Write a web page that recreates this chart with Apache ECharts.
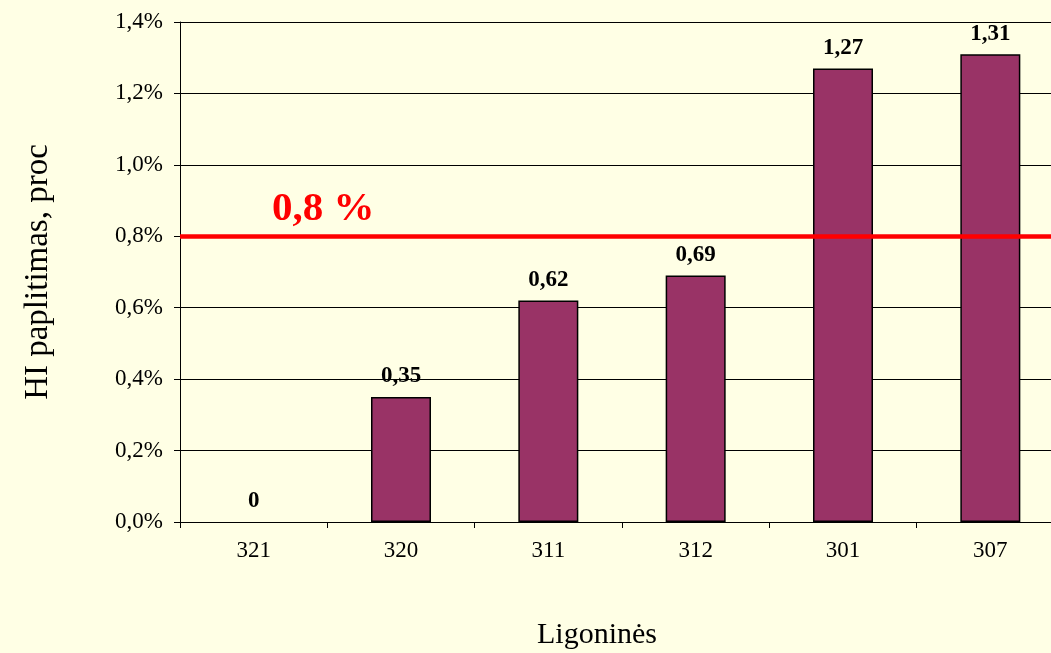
<!DOCTYPE html>
<html>
<head>
<meta charset="utf-8">
<script src="https://cdn.jsdelivr.net/npm/echarts@6/dist/echarts.min.js"></script>
<style>
  html, body { margin: 0; padding: 0; background: #ffffe5; }
  #chart { width: 1051px; height: 653px; }
</style>
</head>
<body>
<div id="chart"></div>
<script>
const categories = ["321", "320", "311", "312", "301", "307"];
const values = [0, 0.35, 0.62, 0.69, 1.27, 1.31];
const threshold = 0.8;

const serif = "'Liberation Serif', 'Times New Roman', serif";
const chart = echarts.init(document.getElementById("chart"));

// zero bar: no border line on the axis
const barData = values.map(v => v === 0 ? { value: v, itemStyle: { borderWidth: 0 } } : v);

const option = {
  backgroundColor: "#ffffe5",
  animation: false,
  grid: { left: 180, top: 22, width: 884, bottom: 131, outerBoundsMode: "none", containLabel: false },
  xAxis: {
    type: "category",
    data: categories,
    name: "Ligoninės",
    nameLocation: "middle",
    nameGap: 98,
    nameTextStyle: { fontFamily: serif, fontSize: 30, color: "#000", padding: [0, 50, 0, 0] },
    axisLine: { lineStyle: { color: "#000", width: 1 } },
    axisTick: { show: true, length: 6, lineStyle: { color: "#000" } },
    axisLabel: { fontFamily: serif, fontSize: 23, color: "#000", margin: 17 }
  },
  yAxis: {
    type: "value",
    min: 0,
    max: 1.4,
    interval: 0.2,
    name: "HI paplitimas, proc",
    nameLocation: "middle",
    nameGap: 125,
    nameTextStyle: { fontFamily: serif, fontSize: 33, color: "#000" },
    axisLine: { show: true, lineStyle: { color: "#000", width: 1 } },
    axisTick: { show: true, length: 6, lineStyle: { color: "#000" } },
    axisLabel: {
      fontFamily: serif, fontSize: 23, color: "#000", margin: 17,
      formatter: v => v.toFixed(1).replace(".", ",") + "%"
    },
    splitLine: { show: true, lineStyle: { color: "#000", width: 1 } }
  },
  series: [{
    type: "bar",
    data: barData,
    barWidth: 60,
    itemStyle: { color: "#993366", borderColor: "#000", borderWidth: 1.5 },
    label: {
      show: true,
      position: "top",
      distance: 9,
      fontFamily: serif,
      fontSize: 23,
      fontWeight: "bold",
      color: "#000",
      formatter: p => String(p.value).replace(".", ",")
    },
    markLine: {
      silent: true,
      symbol: "none",
      lineStyle: { color: "#ff0000", width: 4.5, type: "solid" },
      label: {
        show: true,
        position: "insideStartTop",
        formatter: "0,8 %",
        fontFamily: serif,
        fontSize: 41,
        fontWeight: "bold",
        color: "#ff0000",
        padding: [0, 0, 0, 86],
        distance: 6
      },
      data: [{ yAxis: threshold }]
    }
  }]
};

chart.setOption(option);
window.addEventListener("resize", () => chart.resize());
</script>
</body>
</html>
